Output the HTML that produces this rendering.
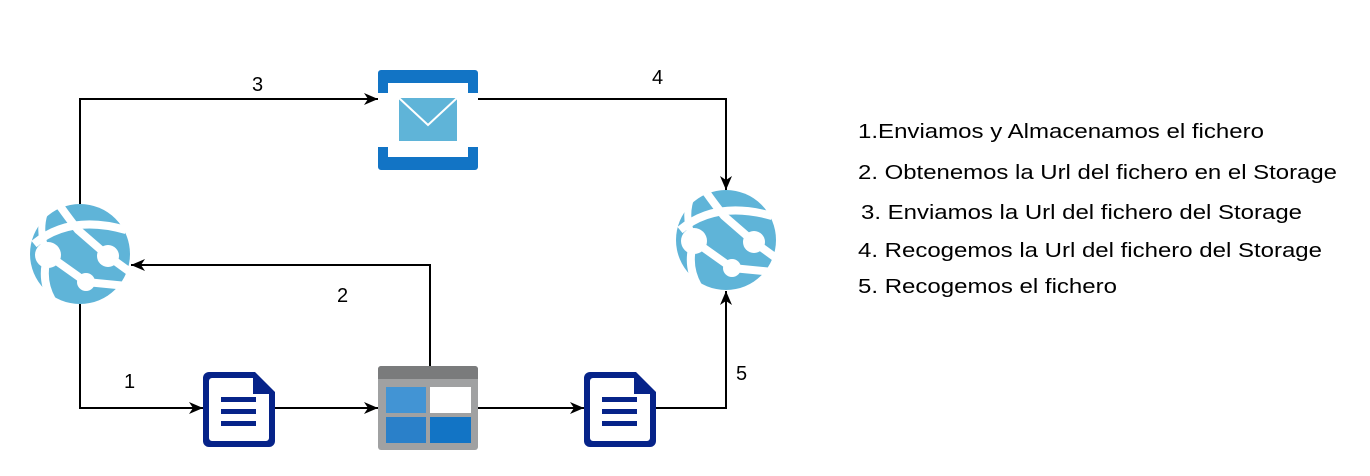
<!DOCTYPE html>
<html><head><meta charset="utf-8"><style>
html,body{margin:0;padding:0;background:#fff;}
svg{display:block;}
text{font-family:"Liberation Sans",Arial,sans-serif;fill:#000;}
</style></head><body>
<svg width="1370" height="476" viewBox="0 0 1370 476" xmlns="http://www.w3.org/2000/svg">
<defs>
<marker id="ar" viewBox="0 0 14 12" refX="14" refY="6" markerWidth="14" markerHeight="12" markerUnits="userSpaceOnUse" orient="auto">
<path d="M0,0 L14,6 L0,12 L4,6 Z" fill="#000"/>
</marker>
<g id="globe">
<circle cx="50" cy="50" r="50" fill="#5fb4d8"/>
<g stroke="#fff" fill="none" stroke-linecap="butt">
<path d="M30,2 Q40,16 48,26 L78,52 L100,68" stroke-width="8"/>
<path d="M4,40 Q40,10 96,26" stroke-width="8"/>
<path d="M18,51 L56,78 L97,82" stroke-width="8"/>
<path d="M18,51 Q10,75 22,96" stroke-width="8"/>
<path d="M18,51 Q8,30 14,10" stroke-width="7"/>
</g>
<circle cx="18" cy="51" r="13" fill="#fff"/>
<circle cx="78" cy="52" r="11" fill="#fff"/>
<circle cx="56" cy="78" r="9" fill="#fff"/>
</g>
<g id="doc">
<path d="M6,0 H52 L72,20 V69 a6,6 0 0 1 -6,6 H6 a6,6 0 0 1 -6,-6 V6 a6,6 0 0 1 6,-6 Z" fill="#062389"/>
<path d="M9,6 H50 V22 H66 V66 a3,3 0 0 1 -3,3 H9 a3,3 0 0 1 -3,-3 V9 a3,3 0 0 1 3,-3 Z" fill="#fff"/>
<rect x="18" y="25" width="35" height="5" fill="#062389"/>
<rect x="18" y="37" width="35" height="5" fill="#062389"/>
<rect x="18" y="49" width="35" height="5" fill="#062389"/>
</g>
</defs>

<g stroke="#000" stroke-width="2" fill="none">
<path d="M80,204 V99 H378" marker-end="url(#ar)"/>
<path d="M478,99 H726 V190" marker-end="url(#ar)"/>
<path d="M430,366 V265 H131" marker-end="url(#ar)"/>
<path d="M80,304 V408 H203" marker-end="url(#ar)"/>
<path d="M275,408 H378" marker-end="url(#ar)"/>
<path d="M478,408 H584" marker-end="url(#ar)"/>
<path d="M656,408 H726 V291" marker-end="url(#ar)"/>
</g>

<use href="#globe" x="30" y="204"/>
<use href="#globe" x="676" y="190"/>

<g>
<path d="M378,73 a3,3 0 0 1 3,-3 H475 a3,3 0 0 1 3,3 V93 H468 V83 H388 V93 H378 Z" fill="#1274c5"/>
<path d="M378,147 H388 V157 H468 V147 H478 V167 a3,3 0 0 1 -3,3 H381 a3,3 0 0 1 -3,-3 Z" fill="#1274c5"/>
<rect x="399" y="98" width="58" height="43" fill="#5fb4d8"/>
<path d="M399,98 L428,125 L457,98" stroke="#fff" stroke-width="2" fill="none"/>
</g>

<g>
<rect x="378" y="366" width="100" height="84" rx="3" fill="#a0a1a2"/>
<path d="M378,369 a3,3 0 0 1 3,-3 H475 a3,3 0 0 1 3,3 V379 H378 Z" fill="#7a7b7c"/>
<rect x="386" y="387" width="40" height="26" fill="#4294d4"/>
<rect x="430" y="387" width="41" height="26" fill="#fff"/>
<rect x="386" y="417" width="40" height="26" fill="#2a80c9"/>
<rect x="430" y="417" width="41" height="26" fill="#1274c5"/>
</g>

<use href="#doc" x="203" y="372"/>
<use href="#doc" x="584" y="372"/>

<g font-size="20">
<text x="252" y="91">3</text>
<text x="652" y="84">4</text>
<text x="337" y="302">2</text>
<text x="124" y="388">1</text>
<text x="736" y="380">5</text>
</g>
<g font-size="20">
<text x="858" y="138" textLength="406" lengthAdjust="spacingAndGlyphs">1.Enviamos y Almacenamos el fichero</text>
<text x="858" y="179" textLength="479" lengthAdjust="spacingAndGlyphs">2. Obtenemos la Url del fichero en el Storage</text>
<text x="861" y="219" textLength="441" lengthAdjust="spacingAndGlyphs">3. Enviamos la Url del fichero del Storage</text>
<text x="858" y="257" textLength="464" lengthAdjust="spacingAndGlyphs">4. Recogemos la Url del fichero del Storage</text>
<text x="858" y="293" textLength="259" lengthAdjust="spacingAndGlyphs">5. Recogemos el fichero</text>
</g>
</svg>
</body></html>
